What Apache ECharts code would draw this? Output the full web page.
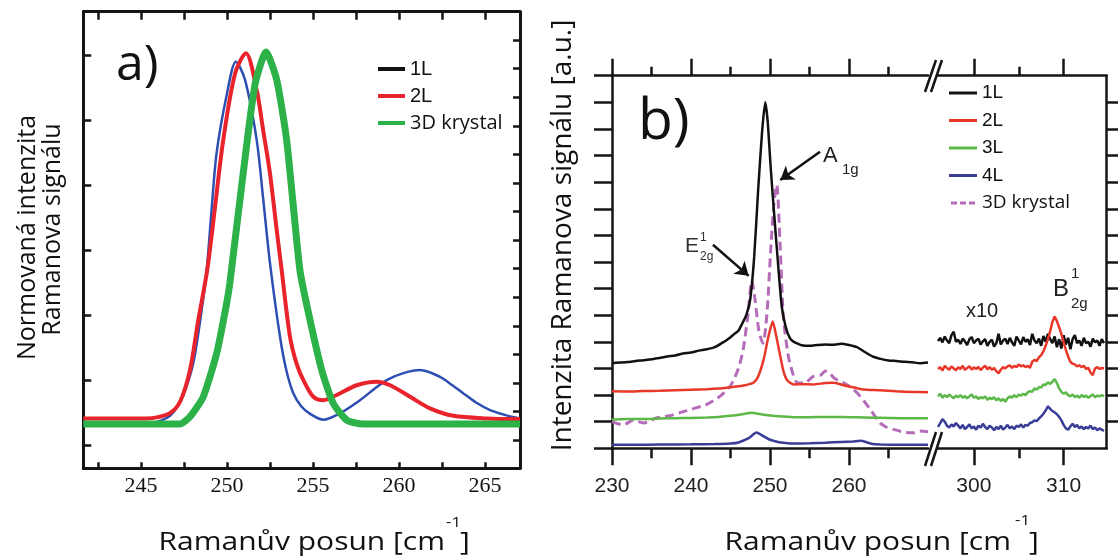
<!DOCTYPE html>
<html><head><meta charset="utf-8">
<script src="https://cdn.jsdelivr.net/npm/echarts@6/dist/echarts.min.js"></script>
<style>html,body{margin:0;padding:0;background:#fff}#c{width:1118px;height:558px}</style>
</head><body><div id="c"></div>
<script>
// ---------- Panel a: normalized Raman intensity ----------
const aTickLabels = [245, 250, 255, 260, 265];
const aTicks = [242.5, 245, 247.5, 250, 252.5, 255, 257.5, 260, 262.5, 265];
const aLeftTicks = [0, 1, 2, 3, 4, 5, 6];
const aRightTicks = [0.077, 0.517, 0.956, 1.396, 1.835, 2.275, 2.715, 3.154, 3.594, 4.033, 4.473, 4.913, 5.352, 5.792, 6.231];
const a1L = [[241.65,0.34],[244,0.34],[245.7,0.345],[246.2,0.38],[246.69,0.45],[247.1,0.58],[247.46,0.76],[248.04,1.26],[248.53,2.08],[248.82,2.69],[249.1,3.6],[249.4,4.5],[249.98,5.38],[250.52,5.9],[251.05,5.62],[251.73,4.69],[252.1,3.8],[252.5,2.8],[253.08,1.67],[253.45,1.15],[253.85,0.8],[254.3,0.6],[254.83,0.48],[255.6,0.39],[256.57,0.49],[257.73,0.69],[258.5,0.85],[259.28,1.0],[260.3,1.11],[261.22,1.154],[262.38,1.05],[263.1,0.92],[263.74,0.795],[264.5,0.65],[265.29,0.538],[266.2,0.46],[267.03,0.41]];
const a2L = [[241.65,0.41],[245.3,0.41],[246.0,0.43],[246.69,0.49],[247.27,0.666],[247.85,1.154],[248.33,1.92],[248.85,2.69],[249.3,3.65],[249.78,4.69],[250.47,5.72],[251.1,6.03],[251.73,5.46],[252.1,4.85],[252.5,4.18],[252.85,3.4],[253.18,2.69],[253.66,1.67],[254.05,1.25],[254.44,1.0],[255.02,0.743],[255.6,0.69],[256.38,0.77],[257.54,0.92],[258.7,0.974],[259.48,0.92],[260.64,0.743],[261.8,0.565],[263.16,0.45],[265.1,0.41],[267.03,0.40]];
const a3D = [[241.65,0.323],[247.27,0.323],[247.85,0.435],[248.62,0.743],[249.4,1.41],[249.98,2.18],[250.17,2.5],[250.95,4.2],[251.63,5.55],[252.27,6.05],[252.89,5.62],[253.47,4.69],[254.24,2.69],[254.83,1.92],[255.51,1.15],[256.18,0.64],[256.96,0.385],[257.9,0.323],[267.03,0.323]];

// ---------- Panel b: Raman intensity (left segment 230-270) ----------
const bLeftLabels = [230, 240, 250, 260];
const bLeftMinor = [235, 245, 255, 265];
const bRightLabels = [300, 310];
const bRightMinor = [305];
const bYTicksLeft = [0,1,2,3,4,5,6,7,8,9,10,11,12,13,14];
const bYTicksRight = [1,2,3,4,5,6,7,8,9,10,11,12,13];
const b1L = [[230,3.2],[231,3.22],[232,3.24],[233,3.28],[234,3.31],[235,3.35],[236,3.39],[237,3.45],[238,3.49],[239,3.56],[240,3.6],[241,3.67],[242,3.72],[243,3.8],[244,3.97],[244.5,4.06],[245,4.17],[245.5,4.3],[246,4.42],[246.5,4.7],[247,5.0],[247.5,5.6],[248,7.2],[248.5,9.7],[249,11.9],[249.4,13.0],[249.7,12.3],[250.1,10.5],[250.5,8.9],[251,7.0],[251.5,5.3],[252,4.55],[252.5,4.15],[253,4.0],[253.5,3.93],[254,3.87],[255,3.85],[256,3.88],[257,3.9],[258,3.89],[259,3.93],[260,3.88],[261,3.8],[262,3.62],[263,3.45],[264,3.36],[265,3.3],[266,3.28],[267,3.25],[268,3.23],[269,3.2],[270,3.22]];
const b2L = [[230,2.14],[232,2.13],[234,2.15],[236,2.16],[238,2.18],[240,2.2],[242,2.22],[243,2.24],[244,2.26],[245,2.29],[246,2.33],[247,2.38],[247.9,2.46],[248.5,2.7],[249.2,3.34],[249.8,4.2],[250.35,4.76],[250.8,4.2],[251.3,3.46],[251.7,2.9],[252.1,2.59],[252.6,2.45],[253,2.4],[254,2.41],[255.5,2.4],[257,2.45],[258,2.46],[259,2.4],[259.7,2.34],[261,2.26],[261.8,2.21],[263.9,2.18],[266,2.14],[268,2.12],[270,2.11]];
const b3L = [[230,1.08],[232,1.1],[234,1.1],[236,1.12],[238,1.13],[240,1.14],[242,1.16],[243.5,1.18],[245,1.22],[246.5,1.28],[247.7,1.34],[248.5,1.3],[249.5,1.25],[251,1.2],[253,1.17],[255,1.17],[257,1.18],[259,1.18],[261,1.17],[263,1.15],[265,1.14],[267,1.13],[270,1.13]];
const b4L = [[230,0.13],[233,0.13],[236,0.14],[240,0.15],[243,0.16],[245,0.18],[246,0.22],[247.3,0.38],[248.3,0.59],[249.2,0.45],[250,0.32],[251,0.24],[252,0.2],[253,0.18],[255,0.19],[257,0.21],[259,0.24],[260.5,0.26],[261.5,0.28],[262.3,0.22],[263,0.16],[264,0.14],[267,0.13],[270,0.13]];
const b3D = [[230,1.0],[231.4,0.88],[232.7,1.05],[234,0.95],[235.7,1.15],[237.3,1.22],[238.6,1.34],[240.3,1.49],[242,1.65],[243.7,1.96],[245,2.35],[246,3.0],[246.6,3.7],[247.2,5.0],[247.7,6.3],[248.1,5.6],[248.6,4.4],[249.1,3.95],[249.6,5.0],[250.1,7.5],[250.5,9.2],[250.85,9.9],[251.3,7.5],[251.7,4.9],[252.3,3.5],[252.9,2.8],[253.5,2.45],[254.3,2.45],[255.5,2.7],[256.4,2.75],[257.0,2.9],[257.6,2.8],[258.2,2.62],[259.7,2.4],[260.6,2.2],[261.4,1.96],[262.1,1.7],[262.7,1.46],[263.9,0.96],[264.7,0.8],[265.6,0.71],[267.3,0.59],[268.2,0.58],[269,0.65],[270,0.62]];

// ---------- Panel b: right segment (x10), sampled from 296 every 0.25 ----------
const bRightStart = 296, bRightStep = 0.25;
const bR1L = [4.03,4.15,3.98,4.2, 4.05,3.95,4.25,4.38, 4.0,4.08,3.92,4.12, 4.02,3.88,4.1,4.18, 3.95,4.05,4.12,3.9, 4.02,4.1,3.85,4.0, 4.08,3.82,3.95,4.3, 3.9,4.05,4.12,3.92, 4.15,3.98,3.85,4.2, 4.05,3.9,4.18,4.0, 4.1,3.88,4.3,4.05, 3.95,4.12,3.85,4.22, 4.0,4.3,4.1,3.95, 4.2,3.8,4.1,3.75, 4.25,3.9,4.15,3.72, 4.1,4.25,3.95,4.05, 3.85,4.15,3.95,4.0, 3.82,4.12,3.98,4.05, 3.85,4.1,3.95];
const bR2L = [2.98,3.05,2.92,3.1, 3.02,2.95,3.08,3.0, 2.93,3.05,2.98,3.1, 2.95,3.02,3.08,2.96, 3.04,2.98,3.06,2.94, 3.03,3.1,2.97,3.05, 2.95,3.02,2.9,2.82, 2.95,3.05,3.0,3.08, 3.12,3.02,3.1,3.05, 3.15,3.08,3.12,3.05, 3.1,3.02,3.25,3.32, 3.28,3.42,3.5,3.65, 3.85,4.1,4.4,4.75, 4.95,4.78,4.55,4.3, 3.98,3.7,3.45,3.25, 3.18,3.15,3.08,3.12, 3.05,3.1,2.98,3.02, 2.85,2.75,3.0,3.05, 2.98,3.02,3.0];
const bR3L = [1.95,2.05,1.9,2.0, 1.92,2.02,1.95,1.88, 1.98,1.92,2.0,1.9, 1.96,1.88,1.95,2.02, 1.9,1.95,1.85,1.92, 1.88,1.95,1.82,1.9, 1.85,1.92,1.8,1.88, 1.78,1.85,1.75,1.88, 1.95,1.9,2.0,1.92, 2.02,1.98,2.05,2.0, 2.1,2.15,2.12,2.25, 2.2,2.3,2.28,2.4, 2.38,2.48,2.42,2.5, 2.6,2.45,2.25,2.12, 2.05,2.1,2.0,1.95, 2.02,1.92,1.98,1.9, 2.0,1.93,1.98,1.9, 1.96,2.02,1.92,1.98, 1.95,2.0,1.96];
const bR4L = [0.8,0.95,1.1,1.0, 0.85,0.78,0.9,0.82, 0.95,0.85,0.75,0.88, 0.72,0.8,0.9,0.75, 0.82,0.7,0.85,0.78, 0.92,0.8,0.72,0.85, 0.78,0.68,0.8,0.72, 0.85,0.7,0.78,0.88, 0.75,0.82,0.72,0.85, 0.8,0.9,0.78,0.88, 0.85,0.95,0.98,1.05, 1.02,1.12,1.2,1.3, 1.42,1.58,1.48,1.4, 1.35,1.28,1.18,1.05, 0.88,0.75,0.7,0.82, 0.92,0.8,0.88,0.75, 0.82,0.72,0.8,0.75, 0.85,0.72,0.78,0.68, 0.75,0.7,0.65];

function rightPairs(vals) { return vals.map((v, i) => [bRightStart + i * bRightStep, v]); }

const INK = '#151515';
const C = {
  aBlue: '#2d4fb2', aRed: '#e8232b', aGreen: '#2db24a',
  b1: '#111111', b2: '#e8382a', b3: '#5cb848', b4: '#3a3d96', b3D: '#b46cb8'
};

function ax(o) {
  const base = {
    type: 'value', splitLine: { show: false }, scale: false,
    axisLine: { show: false, onZero: false, lineStyle: { color: INK, width: 2.5 } },
    axisTick: { show: false },
    axisLabel: { show: false }
  };
  return Object.assign(base, o);
}
function ticks(values, len, inside, width) {
  return { show: true, customValues: values, length: len, inside: inside, lineStyle: { color: INK, width: width || 2.5 } };
}

const xAxis = [
  ax({ gridIndex: 0, position: 'bottom', min: 241.65, max: 267.03,
       axisLine: { show: true, onZero: false, lineStyle: { color: INK, width: 3 } },
       axisTick: ticks(aTicks, 6, true, 2.5),
       axisLabel: { show: true, customValues: aTickLabels, margin: 7, fontFamily: 'Liberation Serif', fontSize: 22, color: '#111' } }),
  ax({ gridIndex: 0, position: 'top', min: 241.65, max: 267.03,
       axisLine: { show: true, onZero: false, lineStyle: { color: INK, width: 3 } },
       axisTick: ticks(aTicks, 8, true, 2.5) }),
  ax({ gridIndex: 1, position: 'bottom', min: 230, max: 270,
       axisLine: { show: true, onZero: false, lineStyle: { color: INK, width: 2.5 } },
       axisTick: ticks(bLeftLabels, 17, false),
       axisLabel: { show: true, customValues: bLeftLabels, margin: 27, fontFamily: 'Liberation Sans', fontSize: 21, color: '#222' } }),
  ax({ gridIndex: 1, position: 'bottom', min: 230, max: 270, axisTick: ticks(bLeftMinor, 10, false) }),
  ax({ gridIndex: 1, position: 'top', min: 230, max: 270,
       axisLine: { show: true, onZero: false, lineStyle: { color: INK, width: 2.5 } },
       axisTick: ticks(bLeftLabels, 17, false) }),
  ax({ gridIndex: 1, position: 'top', min: 230, max: 270, axisTick: ticks(bLeftMinor, 9, false) }),
  ax({ gridIndex: 2, position: 'bottom', min: 296, max: 314.8,
       axisLine: { show: true, onZero: false, lineStyle: { color: INK, width: 2.5 } },
       axisTick: ticks(bRightLabels, 17, false),
       axisLabel: { show: true, customValues: bRightLabels, margin: 27, fontFamily: 'Liberation Sans', fontSize: 21, color: '#222' } }),
  ax({ gridIndex: 2, position: 'bottom', min: 296, max: 314.8, axisTick: ticks(bRightMinor, 10, false) }),
  ax({ gridIndex: 2, position: 'top', min: 296, max: 314.8,
       axisLine: { show: true, onZero: false, lineStyle: { color: INK, width: 2.5 } },
       axisTick: ticks(bRightLabels, 17, false) }),
  ax({ gridIndex: 2, position: 'top', min: 296, max: 314.8, axisTick: ticks(bRightMinor, 9, false) })
];

const yAxis = [
  ax({ gridIndex: 0, position: 'left', min: -0.358, max: 6.67,
       axisLine: { show: true, onZero: false, lineStyle: { color: INK, width: 3 } },
       axisTick: ticks(aLeftTicks, 8, true, 2.5) }),
  ax({ gridIndex: 0, position: 'right', min: -0.358, max: 6.67,
       axisLine: { show: true, onZero: false, lineStyle: { color: INK, width: 3 } },
       axisTick: ticks(aRightTicks, 7, true, 2.5) }),
  ax({ gridIndex: 1, position: 'left', min: 0, max: 14,
       axisLine: { show: true, onZero: false, lineStyle: { color: INK, width: 2.5 } },
       axisTick: ticks(bYTicksLeft, 18, false) }),
  ax({ gridIndex: 2, position: 'right', min: 0, max: 14,
       axisLine: { show: true, onZero: false, lineStyle: { color: INK, width: 2.5 } },
       axisTick: ticks(bYTicksRight, 12, false) })
];

function line(name, data, xi, yi, color, width, extra) {
  return Object.assign({
    type: 'line', name: name, data: data, xAxisIndex: xi, yAxisIndex: yi,
    symbol: 'none', showSymbol: false, animation: false, silent: true,
    lineStyle: { color: color, width: width }, itemStyle: { color: color }
  }, extra || {});
}

const series = [
  line('1L', a1L, 0, 0, C.aBlue, 2.5, { smooth: 0.3 }),
  line('2L', a2L, 0, 0, C.aRed, 4, { smooth: 0.3 }),
  line('3D krystal', a3D, 0, 0, C.aGreen, 7, { smooth: 0.2 }),

  line('3D krystal', b3D, 2, 2, C.b3D, 3, { smooth: 0.25, lineStyle: { color: C.b3D, width: 3, type: [9, 5] } }),
  line('1L', b1L, 2, 2, C.b1, 2.5, { smooth: 0.2,
    markLine: {
      silent: true, animation: false, symbol: ['none', 'arrow'], symbolSize: 13,
      label: { show: false },
      lineStyle: { color: '#111', width: 2.5, type: 'solid' },
      data: [
        [{ coord: [256.33, 11.14] }, { coord: [251.3, 10.08] }],
        [{ coord: [242.78, 7.65] }, { coord: [247.3, 6.48] }]
      ]
    } }),
  line('2L', b2L, 2, 2, C.b2, 2.5, { smooth: 0.2 }),
  line('3L', b3L, 2, 2, C.b3, 2.5, { smooth: 0.2 }),
  line('4L', b4L, 2, 2, C.b4, 2.5, { smooth: 0.2 }),

  line('1L', rightPairs(bR1L), 6, 3, C.b1, 2.5),
  line('2L', rightPairs(bR2L), 6, 3, C.b2, 2.5),
  line('3L', rightPairs(bR3L), 6, 3, C.b3, 2.5),
  line('4L', rightPairs(bR4L), 6, 3, C.b4, 2.5)
];

const legendFmt = n => n === '3D krystal' ? '{o|3D krystal}' : n;
const legendText = (size) => ({ fontFamily: 'Liberation Sans', fontSize: size, color: '#111', lineHeight: 20,
  rich: { o: { fontFamily: 'Open Sans', fontSize: size, color: '#111', lineHeight: 20 } } });
const dashIcon = 'path://M0,0h6v3h-6zM9,0h6v3h-6zM18,0h6v3h-6z';

const legend = [
  { left: 378, top: 59, orient: 'vertical', padding: 0, itemWidth: 27, itemHeight: 4, itemGap: 7,
    selectedMode: false, formatter: legendFmt, textStyle: legendText(20),
    data: [
      { name: '1L', icon: 'rect', itemStyle: { color: '#111', borderWidth: 0 } },
      { name: '2L', icon: 'rect', itemStyle: { color: C.aRed, borderWidth: 0 } },
      { name: '3D krystal', icon: 'rect', itemStyle: { color: C.aGreen, borderWidth: 0 } }
    ] },
  { left: 949, top: 83, orient: 'vertical', padding: 0, itemWidth: 28, itemHeight: 3, itemGap: 7.5,
    selectedMode: false, formatter: legendFmt, textStyle: legendText(19),
    data: [
      { name: '1L', icon: 'rect', itemStyle: { color: C.b1, borderWidth: 0 } },
      { name: '2L', icon: 'rect', itemStyle: { color: C.b2, borderWidth: 0 } },
      { name: '3L', icon: 'rect', itemStyle: { color: C.b3, borderWidth: 0 } },
      { name: '4L', icon: 'rect', itemStyle: { color: C.b4, borderWidth: 0 } },
      { name: '3D krystal', icon: dashIcon, itemStyle: { color: C.b3D, borderWidth: 0 } }
    ] }
];

function txt(text, x, y, size, opts) {
  opts = opts || {};
  const align = opts.align || 'left';
  return {
    type: 'text', x: x, y: y, rotation: opts.rotation || 0, scaleX: opts.scaleX || 1, silent: true, z: 100,
    style: {
      text: text, x: 0, y: 0, fontSize: size, fontFamily: opts.font || 'Open Sans', fill: opts.color || '#111',
      align: align, textAlign: align, verticalAlign: 'middle', textVerticalAlign: 'middle'
    }
  };
}
function seg(x1, y1, x2, y2) {
  return { type: 'line', silent: true, z: 100, shape: { x1, y1, x2, y2 }, style: { stroke: INK, lineWidth: 2.5 } };
}

const graphic = [
  txt('a)', 116, 66, 50),
  txt('b)', 638, 123, 57),
  txt('Normovaná intenzita', 27.5, 237.5, 25, { align: 'center', rotation: Math.PI / 2 }),
  txt('Ramanova signálu', 53, 229.5, 25, { align: 'center', rotation: Math.PI / 2 }),
  txt('Intenzita Ramanova signálu [a.u.]', 563, 235.5, 28, { align: 'center', rotation: Math.PI / 2 }),

  txt('Ramanův posun [cm', 445, 543, 25, { align: 'right', scaleX: 1.2 }),
  txt('-1', 446, 523, 14, { scaleX: 1.2 }),
  txt(']', 460, 543, 25, { scaleX: 1.2 }),
  txt('Ramanův posun [cm', 1011, 543, 25, { align: 'right', scaleX: 1.2 }),
  txt('-1', 1015, 521, 14, { scaleX: 1.2 }),
  txt(']', 1029, 543, 25, { scaleX: 1.2 }),

  txt('A', 823, 155.5, 22, { font: 'Liberation Sans', color: '#222' }),
  txt('1g', 842, 170, 15, { font: 'Liberation Sans', color: '#222' }),
  txt('E', 685, 246.5, 21, { font: 'Liberation Sans', color: '#333' }),
  txt('1', 700, 237.5, 12, { font: 'Liberation Sans', color: '#333' }),
  txt('2g', 700, 256.5, 12, { font: 'Liberation Sans', color: '#333' }),
  txt('B', 1053, 289, 24, { font: 'Liberation Sans', color: '#222' }),
  txt('1', 1071, 273.5, 15, { font: 'Liberation Sans', color: '#222' }),
  txt('2g', 1071, 303.5, 15, { font: 'Liberation Sans', color: '#222' }),
  txt('x10', 966, 311.7, 20, { font: 'Liberation Sans', color: '#222' }),

  seg(925, 92, 936, 60), seg(931, 92, 942, 60),
  seg(925, 466, 936, 432), seg(931, 466, 942, 432)
];

const chart = echarts.init(document.getElementById('c'), null, { renderer: 'canvas' });
chart.setOption({
  animation: false,
  backgroundColor: '#fff',
  grid: [
    { left: 83.3, top: 11.7, width: 436.7, height: 456.6, outerBoundsMode: 'none', containLabel: false },
    { left: 612, top: 75.7, width: 316, height: 372.6, outerBoundsMode: 'none', containLabel: false },
    { left: 938, top: 75.7, width: 168.7, height: 372.6, outerBoundsMode: 'none', containLabel: false }
  ],
  xAxis: xAxis,
  yAxis: yAxis,
  legend: legend,
  series: series,
  graphic: graphic
});
</script>
</body></html>
